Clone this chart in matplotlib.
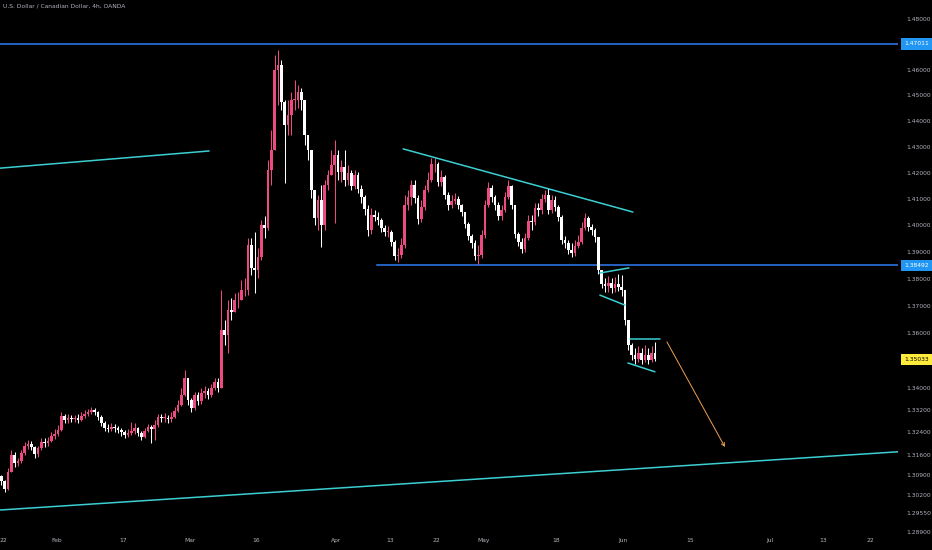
import numpy as np
import matplotlib.pyplot as plt

# USD/CAD 4h (grouped into half-day candles)
closes = [1.3066, 1.3041, 1.3101, 1.3161, 1.3133, 1.3140, 1.3168, 1.3193, 1.3200, 1.3189,
          1.3164, 1.3186, 1.3207, 1.3203, 1.3210, 1.3228, 1.3235, 1.3250, 1.3300, 1.3285,
          1.3293, 1.3289, 1.3293, 1.3285, 1.3300, 1.3307, 1.3314, 1.3321, 1.3314, 1.3296,
          1.3275, 1.3257, 1.3253, 1.3260, 1.3257, 1.3250, 1.3243, 1.3232, 1.3239, 1.3246,
          1.3257, 1.3239, 1.3225, 1.3246, 1.3260, 1.3253, 1.3267, 1.3296, 1.3293, 1.3293,
          1.3289, 1.3296, 1.3318, 1.3339, 1.3375, 1.3436, 1.3357, 1.3328, 1.3375, 1.3353,
          1.3382, 1.3389, 1.3375, 1.3400, 1.3422, 1.3400, 1.3611, 1.3593, 1.3685, 1.3677,
          1.3721, 1.3721, 1.3758, 1.3758, 1.3926, 1.3840, 1.3833, 1.3881, 1.4001, 1.3990,
          1.4210, 1.4287, 1.4598, 1.4618, 1.4473, 1.4384, 1.4422, 1.4481, 1.4481, 1.4512,
          1.4481, 1.4345, 1.4287, 1.4134, 1.4028, 1.4096, 1.4001, 1.4153, 1.4191, 1.4230,
          1.4268, 1.4203, 1.4222, 1.4172, 1.4199, 1.4149, 1.4191, 1.4138, 1.4107, 1.4062,
          1.3983, 1.4039, 1.4032, 1.4020, 1.3990, 1.3975, 1.3975, 1.3938, 1.3885, 1.3889,
          1.3926, 1.4077, 1.4107, 1.4153, 1.4104, 1.4024, 1.4069, 1.4134, 1.4172, 1.4233,
          1.4233, 1.4164, 1.4184, 1.4115, 1.4077, 1.4092, 1.4100, 1.4077, 1.4050, 1.4005,
          1.3960, 1.3934, 1.3885, 1.3889, 1.3964, 1.4077, 1.4142, 1.4107, 1.4077, 1.4035,
          1.4058, 1.4107, 1.4149, 1.4077, 1.3968, 1.3938, 1.3911, 1.3953, 1.4016, 1.4013,
          1.4066, 1.4058, 1.4100, 1.4115, 1.4058, 1.4096, 1.4069, 1.4032, 1.3945, 1.3934,
          1.3908, 1.3896, 1.3923, 1.3938, 1.3990, 1.4028, 1.3994, 1.3983, 1.3956, 1.3833,
          1.3781, 1.3773, 1.3785, 1.3766, 1.3781, 1.3770, 1.3758, 1.3648, 1.3556, 1.3520,
          1.3505, 1.3527, 1.3502, 1.3520, 1.3502, 1.3527, 1.35033]
highs = [1.3090, 1.3073, 1.3115, 1.3178, 1.3171, 1.3150, 1.3178, 1.3207, 1.3214, 1.3210,
         1.3193, 1.3193, 1.3221, 1.3221, 1.3225, 1.3243, 1.3253, 1.3267, 1.3314, 1.3307,
         1.3307, 1.3303, 1.3303, 1.3307, 1.3314, 1.3321, 1.3325, 1.3332, 1.3328, 1.3318,
         1.3303, 1.3282, 1.3271, 1.3275, 1.3271, 1.3264, 1.3257, 1.3250, 1.3253, 1.3278,
         1.3275, 1.3260, 1.3246, 1.3257, 1.3271, 1.3267, 1.3285, 1.3307, 1.3307, 1.3311,
         1.3303, 1.3314, 1.3332, 1.3357, 1.3400, 1.3465, 1.3429, 1.3364, 1.3386, 1.3386,
         1.3400, 1.3407, 1.3400, 1.3415, 1.3436, 1.3436, 1.3758, 1.3648, 1.3721, 1.3729,
         1.3747, 1.3751, 1.3796, 1.3803, 1.3953, 1.3953, 1.3975, 1.3915, 1.4020, 1.4035,
         1.4249, 1.4364, 1.4657, 1.4677, 1.4638, 1.4481, 1.4481, 1.4512, 1.4559, 1.4539,
         1.4528, 1.4481, 1.4326, 1.4287, 1.4134, 1.4115, 1.4153, 1.4172, 1.4210, 1.4287,
         1.4326, 1.4287, 1.4249, 1.4287, 1.4230, 1.4210, 1.4210, 1.4203, 1.4153, 1.4115,
         1.4077, 1.4066, 1.4058, 1.4050, 1.4028, 1.4001, 1.3998, 1.3983, 1.3945, 1.3915,
         1.3953, 1.4115, 1.4134, 1.4172, 1.4172, 1.4115, 1.4096, 1.4153, 1.4203, 1.4256,
         1.4256, 1.4241, 1.4210, 1.4191, 1.4126, 1.4115, 1.4123, 1.4111, 1.4081, 1.4050,
         1.4013, 1.3968, 1.3945, 1.3926, 1.3983, 1.4096, 1.4164, 1.4153, 1.4115, 1.4088,
         1.4077, 1.4126, 1.4172, 1.4153, 1.4077, 1.3975, 1.3953, 1.3971, 1.4039, 1.4039,
         1.4085, 1.4085, 1.4119, 1.4134, 1.4142, 1.4115, 1.4111, 1.4077, 1.4039, 1.3960,
         1.3945, 1.3934, 1.3945, 1.3964, 1.4013, 1.4047, 1.4035, 1.4005, 1.3990, 1.3956,
         1.3833, 1.3803, 1.3810, 1.3803, 1.3807, 1.3818, 1.3814, 1.3758, 1.3648, 1.3563,
         1.3545, 1.3552, 1.3545, 1.3556, 1.3545, 1.3552, 1.3567]
lows = [1.3052, 1.3030, 1.3037, 1.3101, 1.3118, 1.3122, 1.3133, 1.3161, 1.3182, 1.3178,
        1.3150, 1.3154, 1.3178, 1.3189, 1.3193, 1.3207, 1.3218, 1.3228, 1.3246, 1.3275,
        1.3275, 1.3278, 1.3278, 1.3275, 1.3282, 1.3293, 1.3300, 1.3307, 1.3303, 1.3285,
        1.3264, 1.3246, 1.3243, 1.3246, 1.3243, 1.3239, 1.3228, 1.3221, 1.3225, 1.3232,
        1.3235, 1.3228, 1.3214, 1.3221, 1.3243, 1.3203, 1.3214, 1.3260, 1.3278, 1.3278,
        1.3275, 1.3278, 1.3293, 1.3314, 1.3336, 1.3371, 1.3339, 1.3314, 1.3321, 1.3339,
        1.3343, 1.3364, 1.3361, 1.3368, 1.3393, 1.3386, 1.3411, 1.3556, 1.3527, 1.3648,
        1.3685, 1.3692, 1.3721, 1.3736, 1.3740, 1.3814, 1.3747, 1.3803, 1.3870, 1.3953,
        1.3983, 1.4153, 1.4326, 1.4461, 1.4442, 1.4161, 1.4345, 1.4345, 1.4442, 1.4450,
        1.4442, 1.4306, 1.4249, 1.4104, 1.4001, 1.3983, 1.3919, 1.3983, 1.4134, 1.4191,
        1.4009, 1.4172, 1.4164, 1.4149, 1.4153, 1.4134, 1.4138, 1.4123, 1.4085, 1.4039,
        1.3960, 1.3968, 1.4016, 1.4001, 1.3975, 1.3960, 1.3956, 1.3923, 1.3870, 1.3863,
        1.3878, 1.3915, 1.4058, 1.4077, 1.4085, 1.4005, 1.4013, 1.4058, 1.4126, 1.4164,
        1.4203, 1.4149, 1.4149, 1.4100, 1.4058, 1.4066, 1.4081, 1.4062, 1.4035, 1.3990,
        1.3945, 1.3915, 1.3870, 1.3855, 1.3878, 1.3953, 1.4069, 1.4088, 1.4058, 1.4020,
        1.4020, 1.4050, 1.4100, 1.4062, 1.3953, 1.3923, 1.3896, 1.3900, 1.3945, 1.3983,
        1.4001, 1.4035, 1.4043, 1.4088, 1.4043, 1.4047, 1.4054, 1.4016, 1.3930, 1.3915,
        1.3893, 1.3881, 1.3885, 1.3915, 1.3930, 1.3983, 1.3979, 1.3964, 1.3938, 1.3818,
        1.3766, 1.3751, 1.3751, 1.3747, 1.3751, 1.3755, 1.3736, 1.3629, 1.3538, 1.3502,
        1.3487, 1.3494, 1.3487, 1.3494, 1.3487, 1.3494, 1.3498]
first_open = 1.3084

# time axis (trading-day index, Jan 22 = 0)
tick_days = [0, 8, 18, 28, 38, 50, 58, 65, 72, 83, 93, 103, 115, 123, 130]
tick_names = ['22', 'Feb', '17', 'Mar', '16', 'Apr', '13', '22', 'May', '18',
              'Jun', '15', 'Jul', '13', '22']

# price scale
price_ticks = [1.48, 1.46, 1.45, 1.44, 1.43, 1.42, 1.41, 1.40, 1.39, 1.38, 1.37, 1.36,
               1.34, 1.332, 1.324, 1.316, 1.309, 1.302, 1.2955, 1.289]

# drawings: (day, price) pairs
res_top = 1.47011
res_mid = 1.38492
res_mid_start = 56.1
line_topleft = ([-0.45, 30.9], [1.4217, 1.4283])
line_bottom = ([-0.45, 134.2], [1.2966, 1.3171])
line_desc = ([60.0, 94.45], [1.4291, 1.4050])
flag_up = ([89.5, 93.85], [1.3821, 1.3840])
flag_lo = ([89.5, 93.25], [1.3739, 1.3702])
box_up = ([94.0, 98.5], [1.3578, 1.3578])
box_lo = ([93.7, 97.75], [1.3490, 1.3458])
arrow_from = (99.55, 1.3567)
arrow_to = (108.25, 1.3188)

up_col = '#ec4a82'
dn_col = '#ffffff'
teal = '#3ccfd2'
blue = '#2f7cf6'
txt = '#b2b5be'

fig = plt.figure(figsize=(9.32, 5.5), dpi=100, facecolor='black')
ax = fig.add_axes([0, 15/550, 898/932, 535/550])
ax.set_facecolor('black')

closes = np.array(closes)
opens = np.concatenate([[first_open], closes[:-1]])
highs = np.maximum(np.array(highs), np.maximum(opens, closes))
lows = np.minimum(np.array(lows), np.minimum(opens, closes))
xs = np.arange(len(closes)) * 0.5 - 0.25
cols = [up_col if c >= o else dn_col for o, c in zip(opens, closes)]

ax.vlines(xs, lows, highs, colors=cols, linewidth=0.75, zorder=3)
bottoms = np.minimum(opens, closes)
heights = np.maximum(np.abs(closes - opens), 0.00015)
ax.bar(xs, heights, bottom=bottoms, width=0.4, color=cols, linewidth=0, zorder=4)

ax.set_yscale('log')
ax.set_xlim(-0.45, 134.2)
ax.set_ylim(1.2879, 1.4876)

# drawings
ax.axhline(res_top, color=blue, lw=1.1, zorder=2)
ax.plot([res_mid_start, 140], [res_mid, res_mid], color=blue, lw=1.1, zorder=2)
for ln in [line_topleft, line_bottom, line_desc, flag_up, flag_lo, box_up, box_lo]:
    ax.plot(ln[0], ln[1], color=teal, lw=1.1, zorder=5, solid_capstyle='round')
ax.annotate('', xy=arrow_to, xytext=arrow_from,
            arrowprops=dict(arrowstyle='->', color='#f0a050', lw=0.7,
                            shrinkA=0, shrinkB=0, mutation_scale=6))

# axes styling
for s in ax.spines.values():
    s.set_visible(False)
ax.yaxis.tick_right()
ax.set_yticks(price_ticks)
ax.set_yticklabels(['%.5f' % p for p in price_ticks])
ax.yaxis.set_minor_locator(plt.NullLocator())
ax.tick_params(axis='y', length=0, pad=6, labelsize=4.3, labelcolor=txt)
ax.set_xticks(tick_days)
ax.set_xticklabels(tick_names)
ax.tick_params(axis='x', length=0, pad=2.5, labelsize=4.3, labelcolor=txt)

# price tags on the scale
tr = ax.get_yaxis_transform()
for p, fc, tc in [(res_top, '#2196f3', 'white'), (res_mid, '#2196f3', 'white'),
                  (closes[-1], '#ffeb3b', 'black')]:
    ax.text(1.0 + 6/898, p, '%.5f' % p, transform=tr, ha='left', va='center',
            fontsize=4.3, color=tc, clip_on=False, zorder=10,
            bbox=dict(boxstyle='square,pad=0.55', fc=fc, ec='none'))

fig.text(3/932, 1 - 6/550, 'U.S. Dollar / Canadian Dollar, 4h, OANDA',
         color=txt, fontsize=4.3, ha='left', va='center')

fig.savefig('out.png', dpi=100, facecolor='black')
